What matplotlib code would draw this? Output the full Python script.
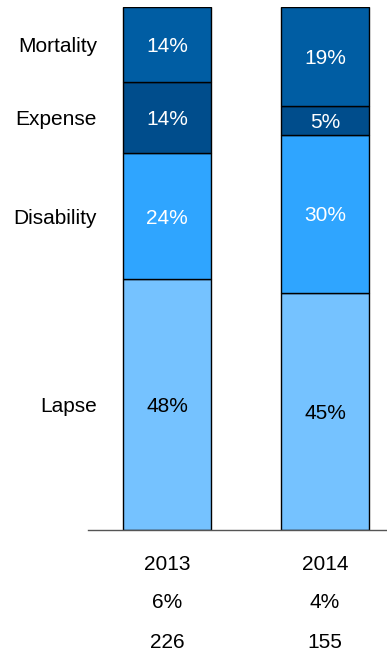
import matplotlib
matplotlib.use("Agg")
import matplotlib.pyplot as plt
import numpy as np

plt.rcParams['font.family'] = ['Liberation Sans', 'DejaVu Sans']

years = ["2013", "2014"]
row2 = ["6%", "4%"]
row3 = ["226", "155"]
categories = ["Lapse", "Disability", "Expense", "Mortality"]
lapse = [48.0, 45.4]
disability = [24.0, 30.2]
expense = [13.6, 5.4]
mortality = [14.4, 19.0]
series = [lapse, disability, expense, mortality]
colors = ["#75C2FF", "#2FA5FF", "#004D8C", "#005DA3"]
text_colors = ["black", "white", "white", "white"]

fs = 15

fig = plt.figure(figsize=(3.87, 6.52), dpi=100)
W, H = 387, 652
ax = fig.add_axes([88 / W, 1 - 530 / H, (387 - 88) / W, (530 - 7) / H])

x = np.arange(len(years))
bottom = np.zeros(len(years))
for vals, col, tc, name in zip(series, colors, text_colors, categories):
    vals = np.array(vals)
    ax.bar(x, vals, bottom=bottom, width=0.557, color=col, edgecolor="black", linewidth=1.0, zorder=2)
    for i in range(len(years)):
        ax.text(x[i], bottom[i] + vals[i] / 2, f"{vals[i]:.0f}%", ha="center", va="center_baseline",
                color=tc, fontsize=fs, zorder=3)
    # category label beside the first bar
    ax.text(-0.5 + 9 / 158, bottom[0] + vals[0] / 2, name, ha="right", va="center_baseline",
            fontsize=fs, color="black")
    bottom += vals

ax.set_xlim(-0.5, 1.392)
ax.set_ylim(0, 100)
for s in ["left", "right", "top"]:
    ax.spines[s].set_visible(False)
ax.spines["bottom"].set_color("#555555")
ax.spines["bottom"].set_linewidth(1.0)
ax.set_xticks([])
ax.set_yticks([])

for i in range(len(years)):
    xf = (88 + (x[i] + 0.5) * 158) / W
    fig.text(xf, 1 - 563 / H, years[i], ha="center", va="center_baseline", fontsize=fs)
    fig.text(xf, 1 - 600 / H, row2[i], ha="center", va="center_baseline", fontsize=fs)
    fig.text(xf, 1 - 640 / H, row3[i], ha="center", va="center_baseline", fontsize=fs)

fig.savefig("out.png", dpi=100)
